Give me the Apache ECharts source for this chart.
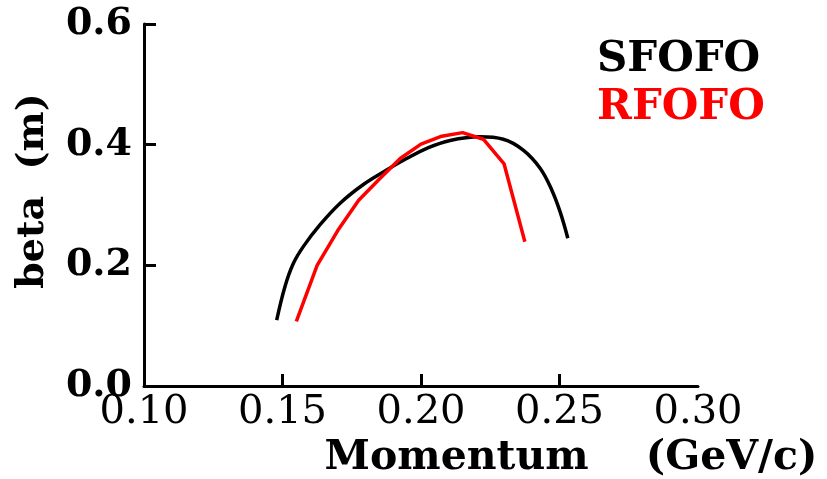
<!DOCTYPE html>
<html>
<head>
<meta charset="utf-8">
<script src="https://cdn.jsdelivr.net/npm/echarts@6/dist/echarts.min.js"></script>
<style>html,body{margin:0;padding:0;background:#fff;}#c{width:827px;height:479px;}</style>
</head>
<body>
<div id="c"></div>
<script>
const xTicks = [0.10, 0.15, 0.20, 0.25, 0.30];
const yTicks = [0.0, 0.2, 0.4, 0.6];
const sfofoX = [0.1479, 0.1509, 0.1539, 0.1575, 0.1635, 0.1708, 0.1792, 0.1876, 0.1948, 0.2021, 0.2105, 0.2213, 0.2297, 0.2369, 0.2430, 0.2472, 0.2502, 0.2530];
const sfofoY = [0.109, 0.165, 0.203, 0.231, 0.267, 0.303, 0.334, 0.358, 0.377, 0.394, 0.407, 0.413, 0.409, 0.391, 0.361, 0.325, 0.289, 0.245];
const rfofoX = [0.155, 0.1625, 0.170, 0.1775, 0.185, 0.1925, 0.200, 0.2075, 0.215, 0.2225, 0.230, 0.2375];
const rfofoY = [0.107, 0.200, 0.258, 0.308, 0.343, 0.377, 0.401, 0.414, 0.420, 0.409, 0.368, 0.239];

const FONT = 'DejaVu Serif';
const chart = echarts.init(document.getElementById('c'), null, {renderer: 'canvas'});
const zip = (xs, ys) => xs.map((x, i) => [x, ys[i]]);
chart.setOption({
  animation: false,
  backgroundColor: '#fff',
  grid: {left: 144, right: 129, top: 24, bottom: 93, containLabel: false, outerBoundsMode: 'none'},
  legend: {
    orient: 'vertical', left: 587, top: 34, icon: 'none', itemWidth: 0, itemGap: 6,
    textStyle: {fontFamily: FONT, fontWeight: 'bold', fontSize: 42},
    data: [
      {name: 'SFOFO', textStyle: {color: '#000'}},
      {name: 'RFOFO', textStyle: {color: '#ff0000'}}
    ]
  },
  xAxis: {
    type: 'value', min: 0.1, max: 0.3, interval: 0.05,
    name: 'Momentum    (GeV/c)', nameLocation: 'middle', nameGap: 50,
    nameTextStyle: {fontFamily: FONT, fontWeight: 'bold', fontSize: 41, color: '#000', padding: [0, 0, 0, 300]},
    axisLine: {lineStyle: {color: '#000', width: 3}},
    axisTick: {inside: true, length: 12, lineStyle: {color: '#000', width: 3}, customValues: [0.15, 0.20, 0.25]},
    axisLabel: {fontFamily: FONT, fontSize: 40, color: '#000', margin: 7, customValues: xTicks,
      formatter: v => v.toFixed(2)},
    splitLine: {show: false}
  },
  yAxis: {
    type: 'value', min: 0, max: 0.6, interval: 0.2,
    name: 'beta  (m)', nameLocation: 'middle', nameGap: 92, nameRotate: 90,
    nameTextStyle: {fontFamily: FONT, fontWeight: 'bold', fontSize: 38, color: '#000', padding: [0, 0, 0, 28]},
    axisLine: {show: true, lineStyle: {color: '#000', width: 3}},
    axisTick: {show: true, inside: true, length: 12, lineStyle: {color: '#000', width: 3}, customValues: [0.2, 0.4, 0.6]},
    axisLabel: {fontFamily: FONT, fontWeight: 'bold', fontSize: 38, color: '#000', margin: 12, customValues: yTicks,
      formatter: v => v.toFixed(1)},
    splitLine: {show: false}
  },
  series: [
    {name: 'SFOFO', type: 'line', data: zip(sfofoX, sfofoY), smooth: 0.4, showSymbol: false,
      lineStyle: {color: '#000', width: 3.5}, itemStyle: {color: '#000'}},
    {name: 'RFOFO', type: 'line', data: zip(rfofoX, rfofoY), smooth: false, showSymbol: false,
      lineStyle: {color: '#ff0000', width: 3.5}, itemStyle: {color: '#ff0000'}}
  ]
});
</script>
</body>
</html>
